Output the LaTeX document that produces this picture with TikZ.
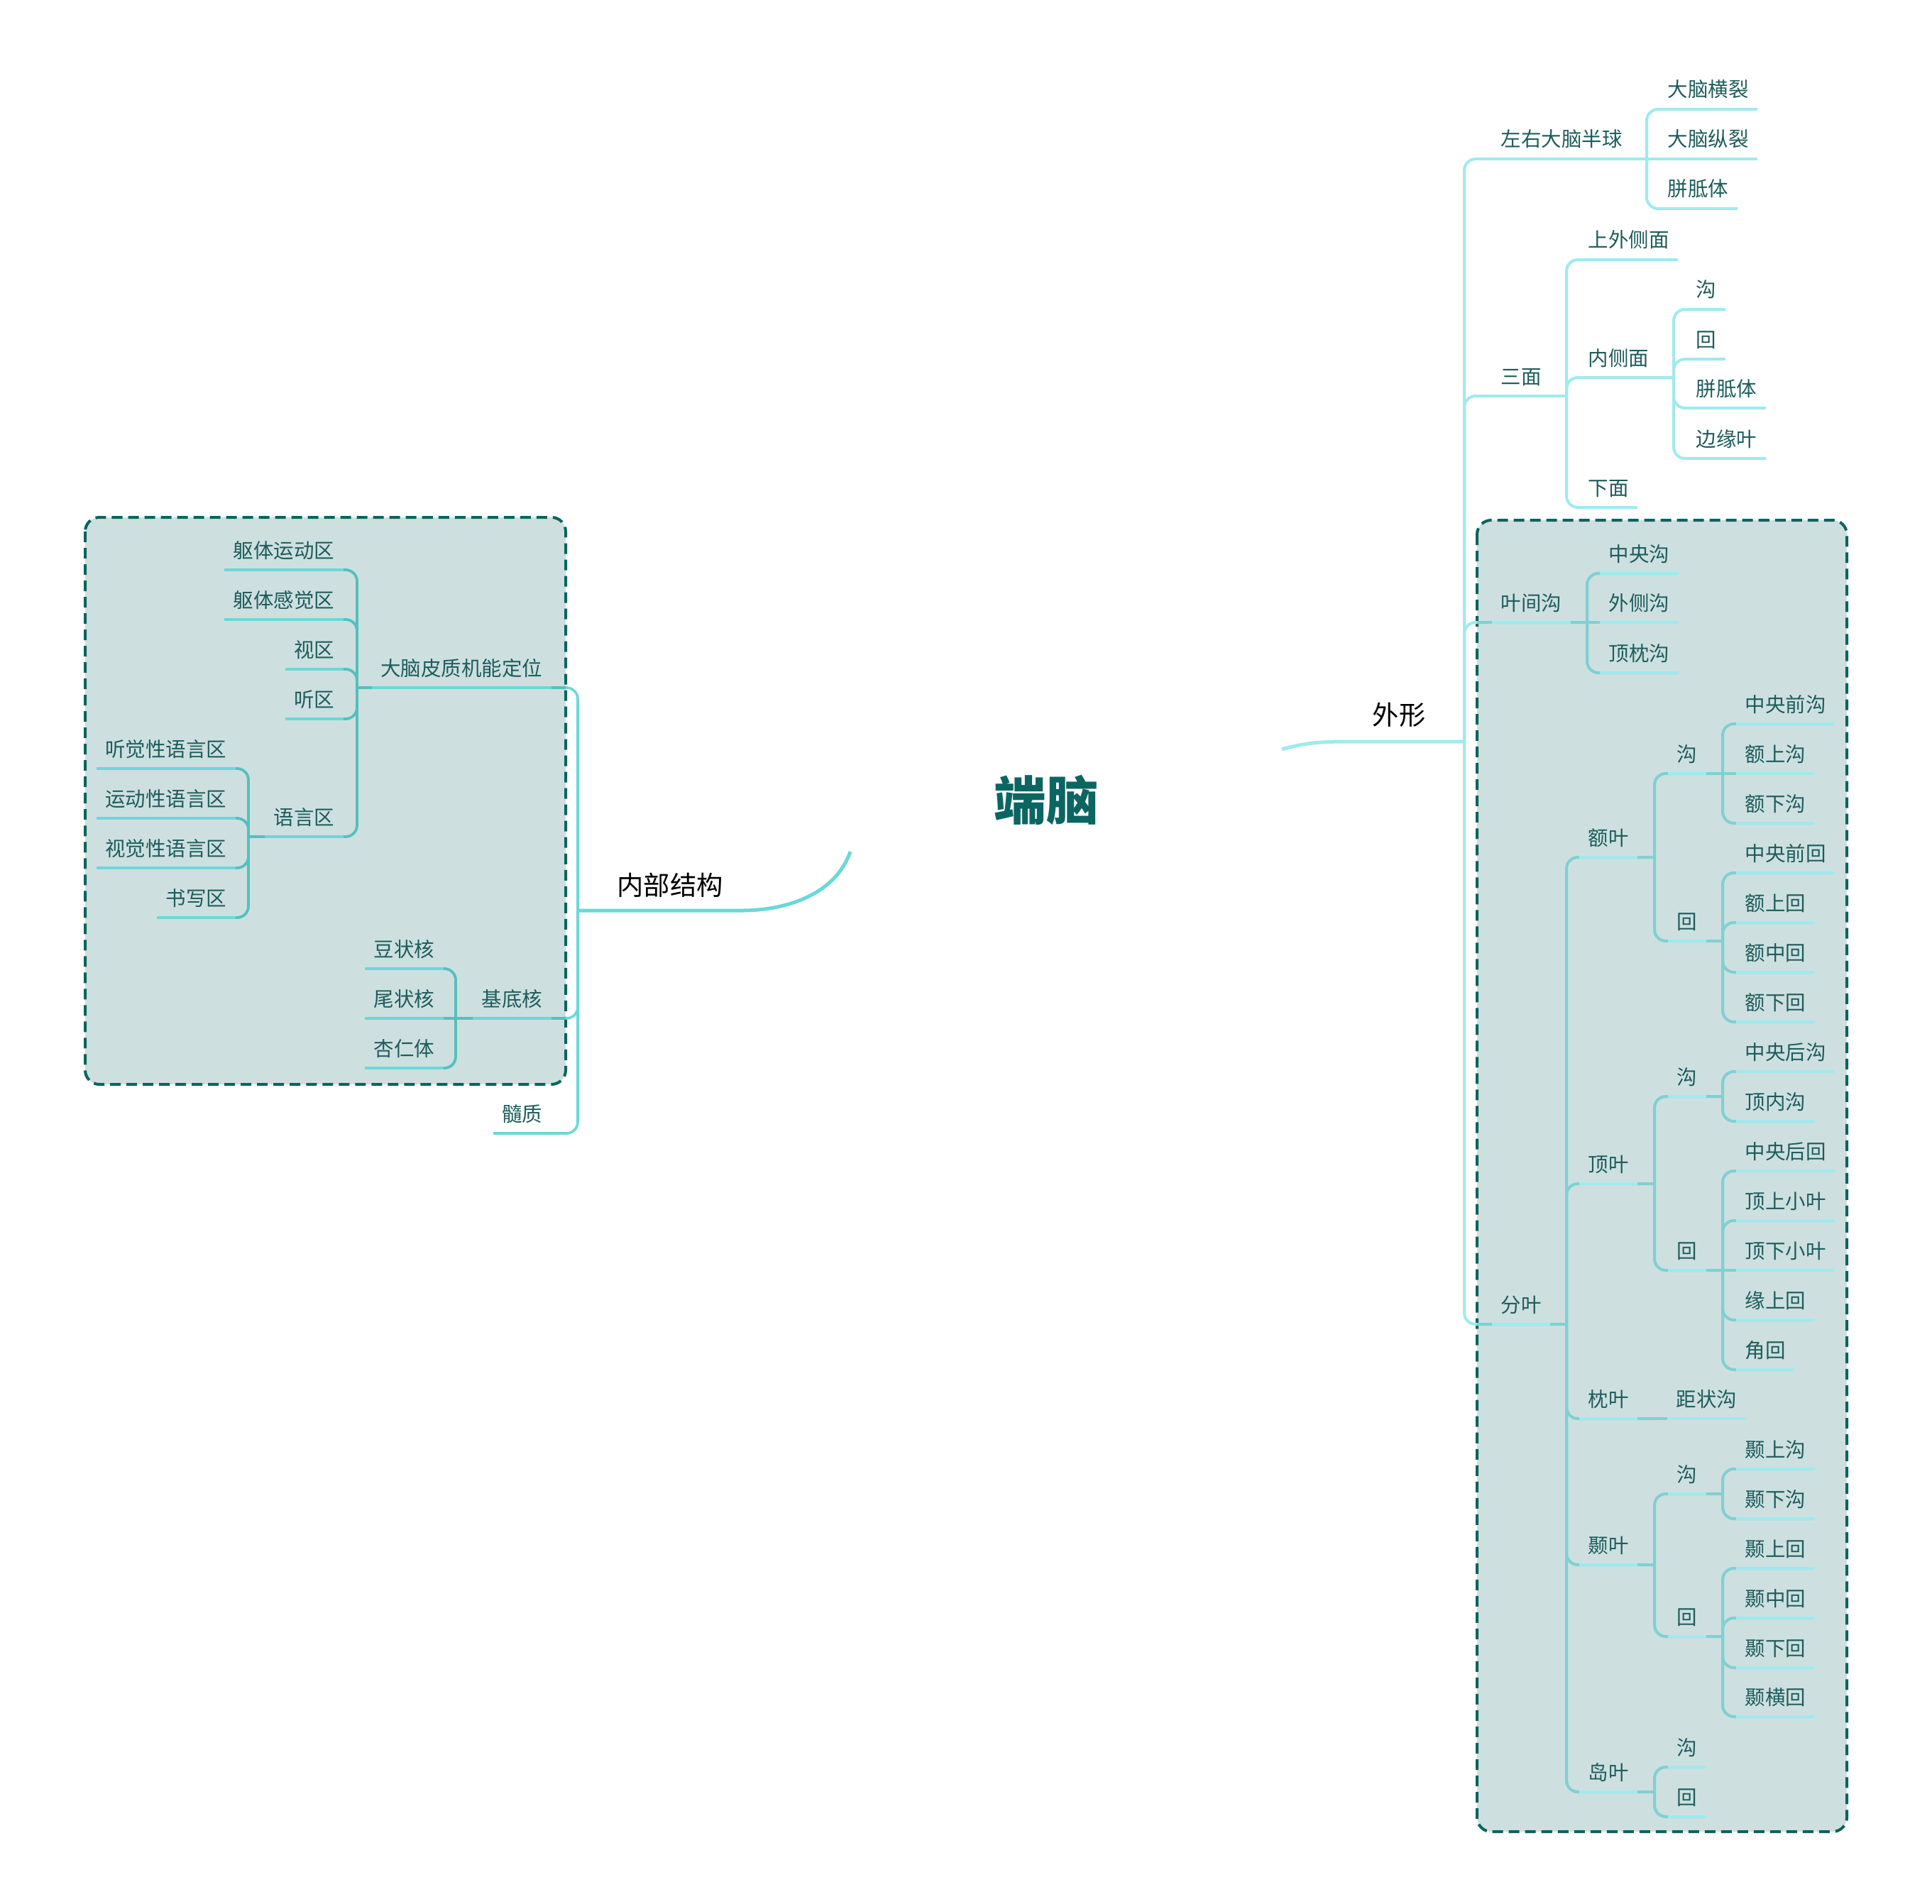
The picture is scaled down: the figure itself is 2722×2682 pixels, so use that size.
\documentclass[tikz,border=0pt]{standalone}
\usepackage{fontspec}
\setmainfont{Noto Sans CJK SC}
\newfontfamily\rootfont{Noto Sans CJK SC Black}
\makeatletter
\newcommand\addconn[1]{\g@addto@macro\allconns{#1}}
\newcommand\addul[1]{\g@addto@macro\allunders{#1}}
\makeatother
\newcommand\allconns{}
\newcommand\allunders{}
\definecolor{txt}{HTML}{1E5C5C}
\definecolor{rootc}{HTML}{0B6662}
\definecolor{rline}{HTML}{A0EAEE}
\definecolor{rlinedark}{HTML}{82CFD2}
\definecolor{lline}{HTML}{6AD8D8}
\definecolor{llinedark}{HTML}{56BFBE}
\definecolor{boxfill}{HTML}{CDE0DF}
\definecolor{boxdraw}{HTML}{0B6460}
\tikzset{
 lbl/.style={text=txt, font=\fontsize{8.1pt}{9.7pt}\selectfont, inner xsep=0.12cm, inner ysep=0pt},
 mlbl/.style={text=black, font=\fontsize{10.6pt}{12pt}\selectfont, inner sep=0pt},
 rconn/.style={draw=rline, line width=0.04cm, rounded corners=0.16cm},
 lconn/.style={draw=lline, line width=0.036cm, rounded corners=0.16cm},
 rul/.style={draw=rline, line width=0.04cm},
 lul/.style={draw=lline, line width=0.036cm},
 frame/.style={fill=boxfill, draw=boxdraw, line width=0.04cm, dash pattern=on 0.15cm off 0.08cm, rounded corners=0.2cm},
}
% right-growing child: name, parent, text x, line y, end x, label
\newcommand\RN[6]{%
  \coordinate (#1) at (#5,#4);
  \node[lbl,anchor=base west] (#1-t) at (#3-12,#4-17) {#6};
  \addconn{\draw[rconn] (#2) |- (#1);}%
  \addul{\draw[rul] (#1-t.west |- #1) -- (#1-t.east |- #1);}%
}
\newcommand\RS[6]{%
  \coordinate (#1) at (#5,#4);
  \node[lbl,anchor=base west] (#1-t) at (#3-12,#4-17) {#6};
  \addconn{\draw[rconn] (#2) -- (#1);}%
  \addul{\draw[rul] (#1-t.west |- #1) -- (#1-t.east |- #1);}%
}
% left-growing child: name, parent, text end x, line y, end x, label
\newcommand\LN[6]{%
  \coordinate (#1) at (#5,#4);
  \node[lbl,anchor=base east] (#1-t) at (#3+12,#4-17) {#6};
  \addconn{\draw[lconn] (#2) |- (#1);}%
  \addul{\draw[lul] (#1-t.west |- #1) -- (#1-t.east |- #1);}%
}
\newcommand\LS[6]{%
  \coordinate (#1) at (#5,#4);
  \node[lbl,anchor=base east] (#1-t) at (#3+12,#4-17) {#6};
  \addconn{\draw[lconn] (#2) -- (#1);}%
  \addul{\draw[lul] (#1-t.west |- #1) -- (#1-t.east |- #1);}%
}
\begin{document}
\begin{tikzpicture}[x=0.01cm,y=-0.01cm]
\useasboundingbox (0,0) rectangle (2722,2682);
% boxes
\path[frame] (2081,733) rectangle (2602,2581);
\path[frame] (120,729) rectangle (797,1528);

% root and main branches
\node[font=\rootfont\fontsize{21pt}{24pt}\selectfont, text=rootc, inner sep=0pt] (root) at (1474,1127) {端脑};
\coordinate (rootR) at (1806,1056);
\coordinate (rootL) at (1198,1200);
\coordinate (wx) at (2063,1045);
\coordinate (nb) at (814,1283);
\node[mlbl,anchor=base west] (wxt) at (1933,1021) {外形};
\node[mlbl,anchor=base west] (nbt) at (869,1261) {内部结构};
\draw[draw=rline, line width=0.05cm] (rootR) .. controls (1840,1046) and (1865,1045) .. (1903,1045) -- (wx);
\draw[draw=lline, line width=0.05cm] (rootL) .. controls (1178,1258) and (1112,1283) .. (1045,1283) -- (nb);

% right tree
\RN{r1}{wx}{2114}{224}{2320}{左右大脑半球}
\RN{r1a}{r1}{2349}{154}{2473}{大脑横裂}
\RS{r1b}{r1}{2349}{224}{2473}{大脑纵裂}
\RN{r1c}{r1}{2349}{294}{2446}{胼胝体}
\RN{r2}{wx}{2114}{558}{2207}{三面}
\RN{r2a}{r2}{2237}{366}{2362}{上外侧面}
\RN{r2b}{r2}{2237}{532}{2358}{内侧面}
\RN{r2ba}{r2b}{2389}{436}{2429}{沟}
\RN{r2bb}{r2b}{2389}{506}{2429}{回}
\RN{r2bc}{r2b}{2389}{575}{2485}{胼胝体}
\RN{r2bd}{r2b}{2389}{646}{2485}{边缘叶}
\RN{r2c}{r2}{2237}{715}{2305}{下面}
\RN{r3}{wx}{2114}{877}{2236}{叶间沟}
\RN{r3a}{r3}{2266}{808}{2362}{中央沟}
\RS{r3b}{r3}{2266}{877}{2362}{外侧沟}
\RN{r3c}{r3}{2266}{948}{2362}{顶枕沟}
\RN{r4}{wx}{2114}{1866}{2207}{分叶}
\RN{fe}{r4}{2237}{1208}{2331}{额叶}
\RN{fea}{fe}{2362}{1090}{2427}{沟}
\RN{feaa}{fea}{2458}{1020}{2581}{中央前沟}
\RS{feab}{fea}{2458}{1090}{2553}{额上沟}
\RN{feac}{fea}{2458}{1160}{2553}{额下沟}
\RN{feb}{fe}{2362}{1326}{2427}{回}
\RN{feba}{feb}{2458}{1230}{2581}{中央前回}
\RN{febb}{feb}{2458}{1300}{2553}{额上回}
\RN{febc}{feb}{2458}{1370}{2553}{额中回}
\RN{febd}{feb}{2458}{1440}{2553}{额下回}
\RN{dy}{r4}{2237}{1668}{2331}{顶叶}
\RN{dya}{dy}{2362}{1545}{2427}{沟}
\RN{dyaa}{dya}{2458}{1510}{2581}{中央后沟}
\RN{dyab}{dya}{2458}{1580}{2553}{顶内沟}
\RN{dyb}{dy}{2362}{1790}{2427}{回}
\RN{dyba}{dyb}{2458}{1650}{2581}{中央后回}
\RN{dybb}{dyb}{2458}{1720}{2581}{顶上小叶}
\RS{dybc}{dyb}{2458}{1790}{2581}{顶下小叶}
\RN{dybd}{dyb}{2458}{1860}{2553}{缘上回}
\RN{dybe}{dyb}{2458}{1930}{2525}{角回}
\RN{zy}{r4}{2237}{1999}{2331}{枕叶}
\RS{zya}{zy}{2361}{1999}{2458}{距状沟}
\RN{ny}{r4}{2237}{2205}{2331}{颞叶}
\RN{nya}{ny}{2362}{2105}{2427}{沟}
\RN{nyaa}{nya}{2458}{2070}{2553}{颞上沟}
\RN{nyab}{nya}{2458}{2140}{2553}{颞下沟}
\RN{nyb}{ny}{2362}{2306}{2427}{回}
\RN{nyba}{nyb}{2458}{2210}{2553}{颞上回}
\RN{nybb}{nyb}{2458}{2280}{2553}{颞中回}
\RN{nybc}{nyb}{2458}{2350}{2553}{颞下回}
\RN{nybd}{nyb}{2458}{2419}{2553}{颞横回}
\RN{dao}{r4}{2237}{2525}{2331}{岛叶}
\RN{daoa}{dao}{2362}{2490}{2401}{沟}
\RN{daob}{dao}{2362}{2560}{2401}{回}

% left tree
\LN{l1}{nb}{765}{969}{503}{大脑皮质机能定位}
\LN{l1a}{l1}{472}{803}{320}{躯体运动区}
\LN{l1b}{l1}{472}{873}{320}{躯体感觉区}
\LN{l1c}{l1}{472}{943}{404}{视区}
\LN{l1d}{l1}{472}{1013}{404}{听区}
\LN{l1e}{l1}{472}{1179}{350}{语言区}
\LN{l1ea}{l1e}{320}{1083}{141}{听觉性语言区}
\LN{l1eb}{l1e}{320}{1153}{141}{运动性语言区}
\LN{l1ec}{l1e}{320}{1223}{141}{视觉性语言区}
\LN{l1ed}{l1e}{320}{1293}{224}{书写区}
\LN{l2}{nb}{765}{1435}{642}{基底核}
\LN{l2a}{l2}{613}{1365}{516}{豆状核}
\LS{l2b}{l2}{613}{1435}{516}{尾状核}
\LN{l2c}{l2}{613}{1505}{516}{杏仁体}
\LN{l3}{nb}{765}{1597}{697}{髓质}

% connectors
\allconns
\begin{scope}
  \clip[rounded corners=0.2cm] (2081,733) rectangle (2602,2581) (120,729) rectangle (797,1528);
  \tikzset{rconn/.style={draw=rlinedark, line width=0.04cm, rounded corners=0.16cm},
           lconn/.style={draw=llinedark, line width=0.036cm, rounded corners=0.16cm}}
  \allconns
\end{scope}
\allunders
\end{tikzpicture}
\end{document}
